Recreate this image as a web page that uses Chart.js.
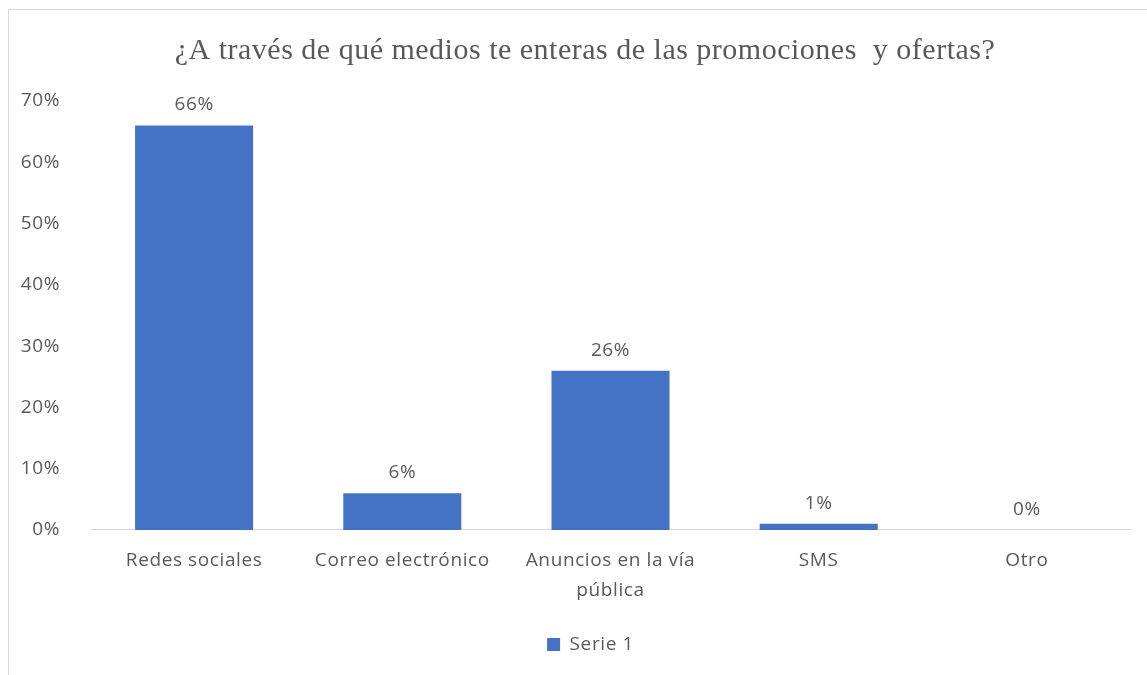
<!DOCTYPE html>
<html>
<head>
<meta charset="utf-8">
<script src="https://cdn.jsdelivr.net/npm/chart.js@4/dist/chart.umd.min.js"></script>
<style>
  html, body { margin: 0; padding: 0; background: #fff; }
  #wrap { width: 1147px; height: 675px; }
</style>
</head>
<body>
<div id="wrap"><canvas id="chart"></canvas></div>
<script>
// chart data
const categories = ['Redes sociales', 'Correo electrónico', ['Anuncios en la vía', 'pública'], 'SMS', 'Otro'];
const serie1 = [0.66, 0.06, 0.26, 0.01, 0];
const seriesName = 'Serie 1';
const chartTitle = '¿A través de qué medios te enteras de las promociones  y ofertas?';

const textColor = '#595959';
const labelFont = { family: '"Open Sans", sans-serif', size: 19 };

// a bit of tracking so the text is as wide as in the original export
function setSpacing(chart) {
    chart.ctx.letterSpacing = '0.6px';
}

// frame around the chart and the title (centred on the frame, not the canvas)
const framePlugin = {
    id: 'frame',
    beforeUpdate(chart) { setSpacing(chart); },
    afterUpdate(chart) {
        // the original legend sits centred on the frame too
        if (chart.legend) {
            chart.legend.left += 25;
            chart.legend.right += 25;
        }
    },
    beforeDraw(chart) {
        setSpacing(chart);
        const ctx = chart.ctx;
        ctx.save();
        ctx.fillStyle = '#fff';
        ctx.fillRect(0, 0, chart.width, chart.height);
        ctx.strokeStyle = '#d9d9d9';
        ctx.lineWidth = 1;
        ctx.strokeRect(8.5, 9.5, chart.width + 20, chart.height + 20);

        ctx.letterSpacing = '0.5px';
        ctx.fillStyle = textColor;
        ctx.font = '30px "Liberation Serif", "Times New Roman", serif';
        ctx.textAlign = 'center';
        ctx.textBaseline = 'middle';
        ctx.fillText(chartTitle, 585, 51);
        ctx.restore();
    }
};

// value labels above each bar
const valueLabels = {
    id: 'valueLabels',
    afterDatasetsDraw(chart) {
        const ctx = chart.ctx;
        ctx.save();
        ctx.fillStyle = textColor;
        ctx.font = labelFont.size + 'px ' + labelFont.family;
        ctx.textAlign = 'center';
        ctx.textBaseline = 'bottom';
        chart.getDatasetMeta(0).data.forEach((bar, i) => {
            const v = chart.data.datasets[0].data[i];
            ctx.fillText(Math.round(v * 100) + '%', bar.x, bar.y - 11);
        });
        ctx.restore();
    }
};

new Chart(document.getElementById('chart'), {
    type: 'bar',
    data: {
        labels: categories,
        datasets: [{
            label: seriesName,
            data: serie1,
            backgroundColor: '#4472C4',
            borderWidth: 0,
            categoryPercentage: 1,
            barPercentage: 0.567
        }]
    },
    options: {
        responsive: true,
        maintainAspectRatio: false,
        animation: false,
        layout: { padding: { top: 101, right: 16, bottom: 11, left: 0 } },
        plugins: {
            title: { display: false },
            legend: {
                position: 'bottom',
                labels: {
                    color: textColor,
                    font: labelFont,
                    boxWidth: 13,
                    boxHeight: 13,
                    padding: 21
                }
            },
            tooltip: { enabled: false }
        },
        scales: {
            x: {
                grid: { display: false },
                border: { color: '#d9d9d9', width: 1 },
                ticks: { color: textColor, font: { ...labelFont, lineHeight: 1.58 }, padding: 8, maxRotation: 0 }
            },
            y: {
                min: 0,
                max: 0.7,
                grid: { display: false },
                border: { display: false },
                afterFit(scale) { scale.width = 90; },
                ticks: {
                    stepSize: 0.1,
                    color: textColor,
                    font: labelFont,
                    padding: 22,
                    callback: v => Math.round(v * 100) + '%'
                }
            }
        }
    },
    plugins: [framePlugin, valueLabels]
});
</script>
</body>
</html>
